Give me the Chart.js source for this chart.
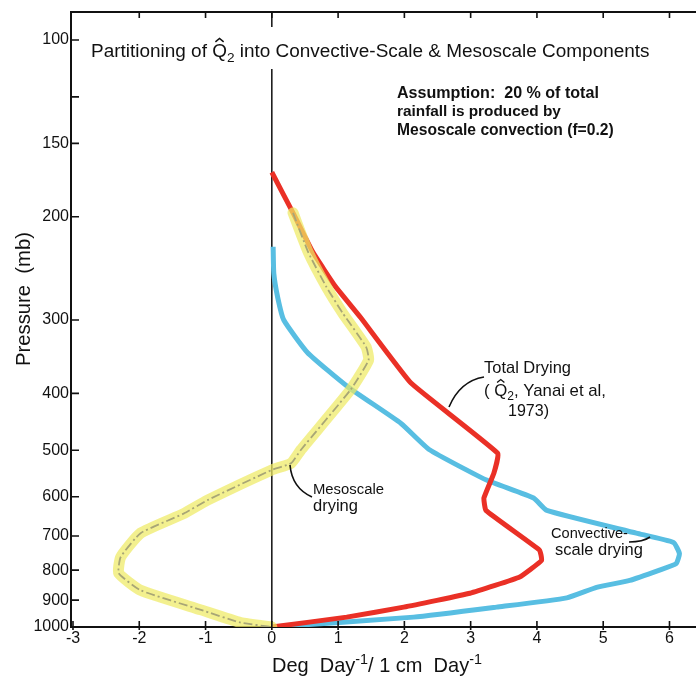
<!DOCTYPE html>
<html><head><meta charset="utf-8">
<script src="https://cdn.jsdelivr.net/npm/chart.js@4/dist/chart.umd.min.js"></script>
<style>html,body{margin:0;padding:0;background:#fff}#wrap{width:696px;height:681px;position:relative}</style>
</head><body><div id="wrap"><canvas id="c" width="696" height="681"></canvas></div>
<script>
// ---- data ----
const pressureTicks  = [100,125,150,200,300,400,500,600,700,800,900,1000];
const pressureLabels = ['100','','150','200','300','400','500','600','700','800','900','1000'];
const xTicks = [-3,-2,-1,0,1,2,3,4,5,6];
const xTickLabels = ['-3','-2','-1','0','1','2','3','4','5','6'];

// Total drying (Q2, Yanai et al. 1973)
const totalP = [168,197,230,263,297,384,506,547,603,633,740,770,822,876,925,962,1000];
const totalX = [0,0.32,0.62,0.96,1.34,2.10,3.41,3.35,3.20,3.23,4.04,4.07,3.74,2.99,1.99,1.13,0];
// Convective-scale drying
const convP = [225,250,275,300,341,390,450,499,562,603,633,692,718,750,780,800,833,856,892,925,962,1000];
const convX = [0.02,0.03,0.09,0.18,0.54,1.15,1.95,2.38,3.24,3.95,4.15,5.50,6.06,6.15,6.10,5.85,5.40,4.90,4.45,3.39,2.14,0];
// Mesoscale drying
const mesoP = [197,230,263,292,333,351,394,499,526,540,608,641,692,760,810,866,935,983,1000];
const mesoX = [0.32,0.55,0.82,1.07,1.42,1.46,1.19,0.44,0.29,0,-0.97,-1.33,-1.98,-2.28,-2.31,-1.98,-1.07,-0.47,0];

const FAM = '"Liberation Sans", "DejaVu Sans", sans-serif';

function pts(xs, ps){ return ps.map((p,i)=>({x:xs[i], y:p})); }

function rich(ctx, segs, x, y, width, weight){
  const measure = (size)=>segs.reduce((w,s)=>{
    ctx.font = `${weight} ${(s.sub||s.sup)?size*0.72:size}px ${FAM}`;
    return w + ctx.measureText(s.t).width;},0);
  let size = 20*width/measure(20);
  let cx = x;
  ctx.textBaseline = 'alphabetic'; ctx.textAlign = 'left';
  for (const s of segs){
    const sz = (s.sub||s.sup)?size*0.72:size;
    ctx.font = `${weight} ${sz}px ${FAM}`;
    const dy = s.sub ? size*0.25 : (s.sup ? -size*0.42 : 0);
    ctx.fillText(s.t, cx, y+dy);
    const w = ctx.measureText(s.t).width;
    if (s.hat){
      ctx.save(); ctx.lineWidth = Math.max(1.2,size*0.08); ctx.beginPath();
      ctx.moveTo(cx+w*0.22, y-size*0.80);
      ctx.lineTo(cx+w*0.5, y-size*0.98);
      ctx.lineTo(cx+w*0.78, y-size*0.80);
      ctx.stroke(); ctx.restore();
    }
    cx += w;
  }
}

const decor = {
  id:'decor',
  beforeDatasetsDraw(chart){
    const {ctx, chartArea:a, scales:{x,y}} = chart;
    ctx.save(); ctx.strokeStyle='#111'; ctx.lineWidth=1.5;
    const x0 = x.getPixelForValue(0);
    ctx.beginPath();
    ctx.moveTo(x0, a.top); ctx.lineTo(x0, y.getPixelForValue(95));
    ctx.moveTo(x0, y.getPixelForValue(112)); ctx.lineTo(x0, a.bottom);
    ctx.stroke(); ctx.restore();
  },
  afterDraw(chart){
    const {ctx, chartArea:a, scales:{x,y}} = chart;
    ctx.save();
    ctx.strokeStyle='#111'; ctx.fillStyle='#111';
    // top frame line
    ctx.lineWidth=2; ctx.beginPath(); ctx.moveTo(a.left-1,a.top); ctx.lineTo(a.right,a.top); ctx.stroke();
    // ticks
    ctx.lineWidth=1.6; ctx.beginPath();
    xTicks.forEach(v=>{const px=x.getPixelForValue(v);
      ctx.moveTo(px,a.bottom+3); ctx.lineTo(px,a.bottom-6);
      if (v>-3){ ctx.moveTo(px,a.top); ctx.lineTo(px,a.top+6);} });
    pressureTicks.forEach(v=>{const py=y.getPixelForValue(v);
      ctx.moveTo(a.left-1,py); ctx.lineTo(a.left+8,py);});
    ctx.stroke();
    // title
    rich(ctx,[{t:'Partitioning of '},{t:'Q',hat:true},{t:'2',sub:true},{t:' into Convective-Scale & Mesoscale Components'}],91,57,559,'normal');
    // assumption
    rich(ctx,[{t:'Assumption:  20 % of total'}],397,98,202,'bold');
    rich(ctx,[{t:'rainfall is produced by'}],397,116,164,'bold');
    rich(ctx,[{t:'Mesoscale convection (f=0.2)'}],397,135,217,'bold');
    // total drying label
    rich(ctx,[{t:'Total Drying'}],484,373,87,'normal');
    rich(ctx,[{t:'( '},{t:'Q',hat:true},{t:'2',sub:true},{t:', Yanai et al,'}],484,396,122,'normal');
    rich(ctx,[{t:'1973)'}],508,416,41,'normal');
    // mesoscale label
    rich(ctx,[{t:'Mesoscale'}],313,494,71,'normal');
    rich(ctx,[{t:'drying'}],313,511,45,'normal');
    // convective label
    rich(ctx,[{t:'Convective-'}],551,538,77,'normal');
    rich(ctx,[{t:'scale drying'}],555,555,88,'normal');
    // leader curves
    ctx.lineWidth=1.6; ctx.beginPath();
    ctx.moveTo(449,407); ctx.quadraticCurveTo(460,381,484,377);
    ctx.moveTo(290,465); ctx.quadraticCurveTo(292,488,312,497);
    ctx.moveTo(629,542); ctx.quadraticCurveTo(643,542,650,537);
    ctx.stroke();
    // axis titles
    rich(ctx,[{t:'Deg  Day'},{t:'-1',sup:true},{t:'/ 1 cm  Day'},{t:'-1',sup:true}],272,672,210,'normal');
    ctx.translate(30,366); ctx.rotate(-Math.PI/2);
    rich(ctx,[{t:'Pressure  (mb)'}],0,0,134,'normal');
    ctx.restore();
  }
};

const tickFont = {family:FAM, size:16};
new Chart(document.getElementById('c'), {
  type:'scatter',
  data:{datasets:[
    {label:'Convective-scale drying', data:pts(convX,convP), showLine:true, borderColor:'rgb(88,190,226)', borderWidth:5, pointRadius:0, tension:0.15, order:4},
    {label:'Total drying', data:pts(totalX,totalP), showLine:true, borderColor:'rgb(234,48,38)', borderWidth:5, pointRadius:0, tension:0.1, order:3},
    {label:'Mesoscale drying', data:pts(mesoX,mesoP), showLine:true, borderColor:'rgba(238,234,100,0.72)', borderWidth:11, pointRadius:0, tension:0.15, order:2, borderCapStyle:'round', borderJoinStyle:'round'},
    {label:'Mesoscale drying (centre)', data:pts(mesoX,mesoP), showLine:true, borderColor:'rgb(168,166,118)', borderWidth:1.8, borderDash:[9,3,2,3], pointRadius:0, tension:0.15, order:1}
  ]},
  options:{
    responsive:false, animation:false,
    layout:{padding:{top:12,right:0,left:0,bottom:0}},
    plugins:{legend:{display:false}, tooltip:{enabled:false}},
    scales:{
      x:{type:'linear', min:-3.03, max:6.4,
        afterBuildTicks:s=>{s.ticks = xTicks.map(v=>({value:v}));},
        afterFit:s=>{s.height=54;},
        ticks:{callback:(v)=>xTickLabels[xTicks.indexOf(v)], font:tickFont, color:'#111', padding:2, maxRotation:0, autoSkip:false},
        grid:{display:true, drawOnChartArea:false, drawTicks:false},
        border:{color:'#111', width:2}},
      y:{type:'logarithmic', reverse:true, min:89.6, max:1000,
        afterBuildTicks:s=>{s.ticks = pressureTicks.map(v=>({value:v}));},
        afterFit:s=>{s.width=71;},
        ticks:{callback:(v)=>pressureLabels[pressureTicks.indexOf(v)], font:tickFont, color:'#111', padding:2, autoSkip:false},
        grid:{display:true, drawOnChartArea:false, drawTicks:false},
        border:{color:'#111', width:2}}
    }
  },
  plugins:[decor]
});
</script></body></html>
